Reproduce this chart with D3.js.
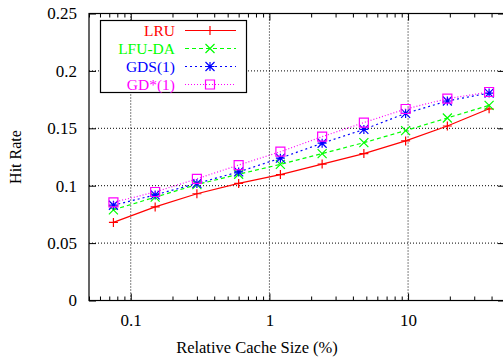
<!DOCTYPE html>
<html>
<head>
<meta charset="utf-8">
<script src="https://cdn.jsdelivr.net/npm/d3@7"></script>
<style>
  body { margin: 0; background: #fff; }
  svg { display: block; }
  svg text { font-family: "Liberation Serif", "Times New Roman", Times, serif !important; }
</style>
</head>
<body>
<svg id="chart" width="503" height="360"></svg>
<script>
// cache sizes (% of trace)
const cacheSizes = [0.075, 0.15, 0.3, 0.6, 1.2, 2.4, 4.8, 9.6, 19.2, 38.4]

const lru = [0.068, 0.0815, 0.093, 0.102, 0.1097, 0.1188, 0.128, 0.139, 0.152, 0.167]
const lfuDa = [0.079, 0.090, 0.101, 0.110, 0.1186, 0.128, 0.1375, 0.148, 0.159, 0.170]
const gds1 = [0.083, 0.092, 0.102, 0.112, 0.124, 0.137, 0.149, 0.163, 0.1738, 0.1807]
const gdStar1 = [0.0855, 0.0945, 0.106, 0.118, 0.1296, 0.1427, 0.155, 0.1668, 0.1758, 0.1816]

const seriesNames = ['LRU', 'LFU-DA', 'GDS(1)', 'GD*(1)']
const xTicks = [0.1, 1, 10]
const yTicks = [0, 0.05, 0.1, 0.15, 0.2, 0.25]

const styles = [
  { color: '#ff0000', dash: null, marker: 'plus' },
  { color: '#00ff00', dash: '4,3', marker: 'cross' },
  { color: '#0000ff', dash: '2,3', marker: 'star' },
  { color: '#ff00ff', dash: '1,2', marker: 'square' }
]

const svg = d3.select('#chart')
const plotLeft = 89, plotRight = 505, plotTop = 13.5, plotBottom = 300.5

const xScale = d3.scaleLog().domain([0.05, 50]).range([plotLeft, plotRight])
const yScale = d3.scaleLinear().domain([0, 0.25]).range([plotBottom, plotTop])

// minor ticks: 2..9 of every decade inside the domain
const minorTicks = []
for (let e = -2; e <= 1; e++) {
  for (let m = 2; m <= 9; m++) {
    const v = m * Math.pow(10, e)
    if (v >= 0.05 && v <= 50) minorTicks.push(+v.toPrecision(3))
  }
}

/**
 * Draws the dotted grid at the major ticks.
 */
function drawGrid() {
  const g = svg.append('g').attr('class', 'grid')
    .attr('stroke', '#000').attr('stroke-width', 1).attr('stroke-dasharray', '1,2')
  g.selectAll('.gx').data(xTicks).join('line')
    .attr('x1', d => xScale(d)).attr('x2', d => xScale(d))
    .attr('y1', plotTop).attr('y2', plotBottom)
  g.selectAll('.gy').data(yTicks.slice(1, -1)).join('line')
    .attr('x1', plotLeft).attr('x2', plotRight)
    .attr('y1', d => yScale(d)).attr('y2', d => yScale(d))
}

/**
 * Draws the border, the inward ticks on all four sides and the labels.
 */
function drawAxes() {
  const fmt = d => d3.format('~g')(d)

  svg.append('g').attr('transform', `translate(0,${plotBottom})`)
    .call(d3.axisBottom(xScale).tickValues(xTicks).tickSize(-7).tickPadding(13).tickFormat(fmt))
  svg.append('g').attr('transform', `translate(0,${plotBottom})`)
    .call(d3.axisBottom(xScale).tickValues(minorTicks).tickSize(-4).tickFormat(''))
  svg.append('g').attr('transform', `translate(0,${plotTop})`)
    .call(d3.axisTop(xScale).tickValues(xTicks).tickSize(-7).tickFormat(''))
  svg.append('g').attr('transform', `translate(0,${plotTop})`)
    .call(d3.axisTop(xScale).tickValues(minorTicks).tickSize(-4).tickFormat(''))

  svg.append('g').attr('transform', `translate(${plotLeft},0)`)
    .call(d3.axisLeft(yScale).tickValues(yTicks).tickSize(-7).tickPadding(12).tickFormat(fmt))
  svg.append('g').attr('transform', `translate(${plotRight},0)`)
    .call(d3.axisRight(yScale).tickValues(yTicks).tickSize(-7).tickFormat(''))

  svg.selectAll('.domain').remove()
  svg.selectAll('.tick line').attr('stroke', '#000')
  svg.selectAll('.tick text')
    .attr('font-size', 17).attr('fill', '#000')

  svg.append('rect')
    .attr('x', plotLeft).attr('y', plotTop)
    .attr('width', plotRight - plotLeft).attr('height', plotBottom - plotTop)
    .attr('fill', 'none').attr('stroke', '#000').attr('stroke-width', 1.2)

  svg.append('text')
    .attr('x', 257).attr('y', 353)
    .attr('text-anchor', 'middle').attr('font-size', 16.5)
    .text('Relative Cache Size (%)')
  svg.append('text')
    .attr('transform', 'translate(21,157) rotate(-90)')
    .attr('text-anchor', 'middle').attr('font-size', 16)
    .text('Hit Rate')
}

/**
 * Appends a point marker of the given kind at (x, y).
 */
function drawMarker(g, kind, x, y, color) {
  const r = 4.5
  const p = d3.path()
  if (kind === 'plus' || kind === 'star') {
    p.moveTo(x - r, y); p.lineTo(x + r, y)
    p.moveTo(x, y - r); p.lineTo(x, y + r)
  }
  if (kind === 'cross' || kind === 'star') {
    p.moveTo(x - r, y - r); p.lineTo(x + r, y + r)
    p.moveTo(x - r, y + r); p.lineTo(x + r, y - r)
  }
  if (kind === 'square') p.rect(x - r, y - r, 2 * r, 2 * r)
  g.append('path').attr('d', p.toString())
    .attr('fill', 'none').attr('stroke', color).attr('stroke-width', 1.2)
}

function drawSeries() {
  const all = [lru, lfuDa, gds1, gdStar1]
  const line = d3.line().x(d => xScale(d[0])).y(d => yScale(d[1]))
  all.forEach((values, i) => {
    const pts = cacheSizes.map((c, j) => [c, values[j]])
    const g = svg.append('g')
    g.append('path').datum(pts)
      .attr('d', line).attr('fill', 'none')
      .attr('stroke', styles[i].color).attr('stroke-width', 1.2)
      .attr('stroke-dasharray', styles[i].dash)
    pts.forEach(d => drawMarker(g, styles[i].marker, xScale(d[0]), yScale(d[1]), styles[i].color))
  })
}

function drawLegend() {
  const g = svg.append('g')
  g.append('rect')
    .attr('x', 100.5).attr('y', 20.5).attr('width', 146).attr('height', 72)
    .attr('fill', '#fff').attr('stroke', '#000').attr('stroke-width', 1.2)
  seriesNames.forEach((name, i) => {
    const y = 30.5 + i * 18
    g.append('text')
      .attr('x', 175).attr('y', y).attr('dy', '0.35em')
      .attr('text-anchor', 'end').attr('font-size', 15.5)
      .attr('fill', styles[i].color).text(name)
    g.append('line')
      .attr('x1', 185).attr('x2', 236).attr('y1', y).attr('y2', y)
      .attr('stroke', styles[i].color).attr('stroke-width', 1.2)
      .attr('stroke-dasharray', styles[i].dash)
    drawMarker(g, styles[i].marker, 210, y, styles[i].color)
  })
}

drawGrid()
drawAxes()
drawSeries()
drawLegend()
</script>
</body>
</html>
